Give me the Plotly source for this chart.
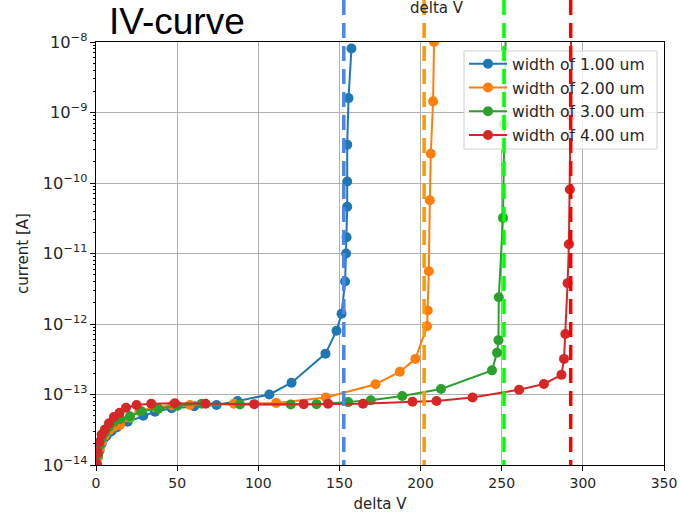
import plotly.graph_objects as go

# --- measured IV data: delta V [V] and current [A] for each strip width ---
labels = ["width of 1.00 um", "width of 2.00 um", "width of 3.00 um", "width of 4.00 um"]
colors = ["#1f77b4", "#ff7f0e", "#2ca02c", "#d62728"]

v_w1 = [0.5, 1.2, 2.2, 3.5, 5.0, 6.6, 9.5, 12.7, 19.5, 29.1, 36.3, 46.6, 60.5, 74.3,
        87.2, 106.8, 120.5, 141.4, 148.2, 151.3, 153.5, 154.1, 154.4, 154.8, 154.8,
        154.8, 155.6, 157.4]
i_w1 = [1.0e-14, 1.3e-14, 1.6e-14, 2.0e-14, 2.4e-14, 2.6e-14, 3.0e-14, 3.4e-14, 4.1e-14,
        5.0e-14, 5.7e-14, 6.4e-14, 6.8e-14, 7.1e-14, 8.1e-14, 1.0e-13, 1.47e-13, 3.8e-13,
        8.0e-13, 1.4e-12, 4.0e-12, 1.0e-11, 1.7e-11, 4.6e-11, 1.05e-10, 3.5e-10, 1.6e-9,
        8.1e-9]

v_w2 = [0.5, 1.2, 2.2, 3.5, 5.5, 8.0, 11.0, 14.8, 20.9, 26.7, 36.0, 47.0, 57.9, 85.0,
        111.0, 141.6, 172.2, 187.2, 196.8, 204.0, 204.4, 205.1, 205.7, 206.3, 207.7, 208.3]
i_w2 = [1.0e-14, 1.3e-14, 1.7e-14, 2.1e-14, 2.6e-14, 3.1e-14, 3.5e-14, 3.7e-14, 4.7e-14,
        5.8e-14, 6.6e-14, 7.0e-14, 7.1e-14, 7.4e-14, 7.6e-14, 9.1e-14, 1.4e-13, 2.1e-13,
        3.2e-13, 9.3e-13, 1.55e-12, 5.6e-12, 5.7e-11, 2.6e-10, 1.44e-9, 1.0e-8]

v_w3 = [0.5, 1.2, 2.2, 3.5, 5.5, 8.0, 11.0, 15.0, 20.9, 28.0, 38.4, 50.0, 65.1, 88.7,
        120.0, 135.9, 155.4, 169.3, 188.7, 212.6, 244.0, 247.1, 248.0, 248.2, 250.8,
        251.4, 252.5]
i_w3 = [1.0e-14, 1.4e-14, 1.9e-14, 2.4e-14, 2.9e-14, 3.5e-14, 4.1e-14, 4.5e-14, 4.9e-14,
        5.8e-14, 6.3e-14, 6.9e-14, 7.4e-14, 7.2e-14, 7.2e-14, 7.3e-14, 7.8e-14, 8.3e-14,
        9.5e-14, 1.2e-13, 2.2e-13, 3.9e-13, 5.9e-13, 2.4e-12, 3.2e-11, 6.9e-10, 1.5e-8]

v_w4 = [0.4, 1.0, 2.0, 3.5, 5.5, 8.0, 11.0, 14.5, 18.5, 25.0, 34.0, 48.5, 67.5, 97.5,
        128.0, 143.0, 164.5, 195.0, 209.8, 232.0, 260.7, 276.0, 286.8, 288.4, 289.2,
        290.6, 291.4, 292.0, 292.4, 292.8]
i_w4 = [1.05e-14, 1.5e-14, 2.1e-14, 2.7e-14, 3.2e-14, 3.9e-14, 4.8e-14, 5.5e-14, 6.5e-14,
        7.1e-14, 7.4e-14, 7.5e-14, 7.4e-14, 7.3e-14, 7.3e-14, 7.4e-14, 7.4e-14, 7.9e-14,
        8.1e-14, 9.1e-14, 1.17e-13, 1.41e-13, 1.9e-13, 3.2e-13, 7.2e-13, 3.8e-12,
        1.35e-11, 8.1e-11, 9.0e-10, 2.0e-8]

# breakdown voltages marked with dashed vertical lines
breakdown_v = [152.7, 202.2, 251.4, 292.5]
breakdown_colors = ["#4a86e8", "#ff9900", "#00ff00", "#ff0000"]

x_ticks = [0, 50, 100, 150, 200, 250, 300, 350]

series = [(v_w1, i_w1), (v_w2, i_w2), (v_w3, i_w3), (v_w4, i_w4)]

TXT = "#262626"
FONT = "DejaVu Sans"

# plot area in pixels
L, R, T, B = 96, 17, 42, 48
W, H = 681, 513
PW, PH = W - L - R, H - T - B


def px_x(p):
    return (p - L) / PW


def px_y(p):
    return (H - B - p) / PH


fig = go.Figure()
for k, (v, i) in enumerate(series):
    fig.add_trace(go.Scatter(
        x=v, y=i, mode="lines+markers", name=labels[k], legendgroup=f"g{k}",
        line=dict(color=colors[k], width=2),
        marker=dict(color=colors[k], size=10),
    ))

# semi-transparent legend backdrop, then the dashed lines over it
shapes = [dict(type="rect", xref="paper", yref="paper",
               x0=px_x(464), x1=px_x(657), y0=px_y(149), y1=px_y(51),
               fillcolor="rgba(255,255,255,0.8)",
               line=dict(color="#d0d0d0", width=1), layer="above")]
for v, c in zip(breakdown_v, breakdown_colors):
    shapes.append(dict(type="line", xref="x", yref="paper", x0=v, x1=v,
                       y0=px_y(0), y1=px_y(465), line=dict(color=c, width=3.5, dash="15px,8px"),
                       layer="above"))

fig.update_layout(
    width=W, height=H, autosize=False,
    margin=dict(l=L, r=R, t=T, b=B, pad=0),
    paper_bgcolor="white", plot_bgcolor="white",
    font=dict(family=FONT, color=TXT, size=14),
    showlegend=True,
    legend=dict(x=px_x(464), y=px_y(47), xanchor="left", yanchor="top",
                bgcolor="rgba(0,0,0,0)", borderwidth=0, itemwidth=38,
                font=dict(family=FONT, size=15.6, color=TXT),
                tracegroupgap=0.5, traceorder="grouped"),
    shapes=shapes,
    annotations=[
        dict(text="IV-curve", xref="paper", yref="paper", x=px_x(107), y=px_y(21),
             xanchor="left", yanchor="middle", showarrow=False,
             font=dict(family="Liberation Sans", size=37, color="black")),
        dict(text="delta V", xref="paper", yref="paper", x=px_x(437), y=px_y(8),
             xanchor="center", yanchor="middle", showarrow=False,
             font=dict(family=FONT, size=15, color=TXT)),
    ],
)

fig.update_xaxes(
    range=[0, 350], tickvals=x_ticks, ticks="outside", ticklen=5, tickwidth=1,
    tickcolor="black", showline=True, linecolor="black", linewidth=1, mirror=True,
    showgrid=True, gridcolor="#b0b0b0", gridwidth=1, zeroline=False, automargin=False,
    tickfont=dict(family=FONT, size=14, color=TXT),
    title=dict(text="delta V", font=dict(family=FONT, size=15, color=TXT), standoff=9),
)
fig.update_yaxes(
    type="log", range=[-14, -8], dtick=1, exponentformat="power", showexponent="all",
    ticks="outside", ticklen=5, tickwidth=1, tickcolor="black",
    minor=dict(ticks="outside", ticklen=2.5, tickcolor="black", dtick="D1", showgrid=False),
    showline=True, linecolor="black", linewidth=1, mirror=True,
    showgrid=True, gridcolor="#b0b0b0", gridwidth=1, zeroline=False, automargin=False,
    tickfont=dict(family=FONT, size=13, color=TXT),
    title=dict(text="current [A]", font=dict(family=FONT, size=15, color=TXT), standoff=10),
)

fig.write_html("out.html")
